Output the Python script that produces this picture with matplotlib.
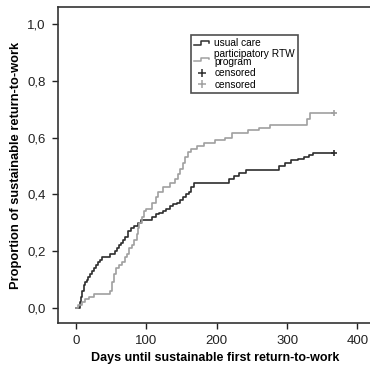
import matplotlib
matplotlib.use("Agg")
import matplotlib.pyplot as plt
from matplotlib.legend_handler import HandlerBase
from matplotlib.lines import Line2D

plt.rcParams['font.family'] = ['Liberation Sans', 'DejaVu Sans']

# Usual care (step points: day, cumulative proportion)
uc_days = [0, 4, 5, 7, 9, 11, 13, 15, 17, 20, 23, 26, 28, 31, 34, 37, 48, 55, 58, 61, 64, 67, 70, 74, 78, 83, 88, 92,
           108, 113, 118, 123, 128, 133, 138, 143, 148, 152, 156, 160, 164, 168, 217, 224, 232, 242, 289, 297, 306,
           316, 324, 331, 337, 366]
uc_prop = [0, 0, 0.02, 0.04, 0.06, 0.08, 0.09, 0.10, 0.11, 0.12, 0.13, 0.14, 0.15, 0.16, 0.17, 0.18, 0.19, 0.20,
           0.21, 0.22, 0.23, 0.24, 0.25, 0.27, 0.28, 0.29, 0.30, 0.31, 0.32, 0.33, 0.335, 0.34, 0.35, 0.36, 0.365,
           0.37, 0.38, 0.39, 0.40, 0.41, 0.425, 0.44, 0.455, 0.465, 0.475, 0.485, 0.50, 0.51, 0.52, 0.525, 0.53,
           0.54, 0.545, 0.545]

# Participatory RTW program
rtw_days = [0, 3, 8, 13, 18, 25, 48, 51, 54, 57, 61, 65, 69, 72, 75, 79, 83, 86, 88, 90, 93, 96, 100, 108, 114,
            117, 124, 133, 140, 145, 148, 152, 155, 159, 163, 172, 182, 197, 212, 222, 245, 260, 275, 328, 333, 366]
rtw_prop = [0, 0.01, 0.02, 0.03, 0.04, 0.05, 0.06, 0.09, 0.12, 0.14, 0.15, 0.16, 0.18, 0.19, 0.21, 0.22, 0.24,
            0.26, 0.28, 0.30, 0.32, 0.34, 0.35, 0.37, 0.39, 0.41, 0.425, 0.44, 0.455, 0.47, 0.49, 0.51, 0.53, 0.55,
            0.56, 0.57, 0.58, 0.59, 0.60, 0.615, 0.625, 0.635, 0.645, 0.665, 0.687, 0.687]

x_ticks = [0, 100, 200, 300, 400]
y_ticks = [0.0, 0.2, 0.4, 0.6, 0.8, 1.0]
y_tick_labels = ['0,0', '0,2', '0,4', '0,6', '0,8', '1,0']
labels = ['usual care', 'participatory RTW\nprogram', 'censored', 'censored']

dark = '#2e2e2e'
grey = '#a0a0a0'

fig = plt.figure(figsize=(3.70, 3.67), dpi=100)
ax = fig.add_axes([0.157, 0.120, 0.849, 0.861])

ax.step(uc_days, uc_prop, where='post', color=dark, lw=1.2)
ax.step(rtw_days, rtw_prop, where='post', color=grey, lw=1.2)
ax.plot([uc_days[-1]], [uc_prop[-1]], marker='+', color=dark, ms=5, mew=1.2, ls='none')
ax.plot([rtw_days[-1]], [rtw_prop[-1]], marker='+', color=grey, ms=5, mew=1.2, ls='none')

ax.set_xlim(-25.6, 421)
ax.set_ylim(-0.053, 1.06)
ax.set_xticks(x_ticks)
ax.set_xticklabels([str(t) for t in x_ticks])
ax.set_yticks(y_ticks)
ax.set_yticklabels(y_tick_labels)
ax.tick_params(direction='out', length=4, width=1, labelsize=9.5, colors='#222222', pad=5)
for s in ax.spines.values():
    s.set_linewidth(1.2)
    s.set_color('#333333')

ax.set_xlabel('Days until sustainable first return-to-work', fontsize=9, fontweight='bold', labelpad=3)
ax.set_ylabel('Proportion of sustainable return-to-work', fontsize=9.3, fontweight='bold', labelpad=4)


class StepHandler(HandlerBase):
    def create_artists(self, legend, orig_handle, xdescent, ydescent, width, height, fontsize, trans):
        w = width
        h = height
        xs = [0, 0.45 * w, 0.45 * w, w, w]
        ys = [0.2 * h, 0.2 * h, 0.7 * h, 0.7 * h, 0.45 * h]
        ln = Line2D(xs, ys, color=orig_handle.get_color(), lw=1.1, transform=trans)
        return [ln]


h1 = Line2D([], [], color=dark)
h2 = Line2D([], [], color=grey)
h3 = Line2D([], [], color=dark, marker='+', ls='none', ms=6, mew=1.1)
h4 = Line2D([], [], color=grey, marker='+', ls='none', ms=6, mew=1.1)
leg = ax.legend([h1, h2, h3, h4], labels, handler_map={h1: StepHandler(), h2: StepHandler()},
                loc='upper left', bbox_to_anchor=(0.407, 0.926), fontsize=7.3, frameon=True, fancybox=False,
                edgecolor='#222222', handlelength=1.5, handletextpad=0.5, borderpad=0.3, labelspacing=0.1)
leg.get_frame().set_linewidth(1.2)
for t in leg.get_texts():
    t.set_linespacing(0.75)

fig.savefig('out.png', dpi=100)
